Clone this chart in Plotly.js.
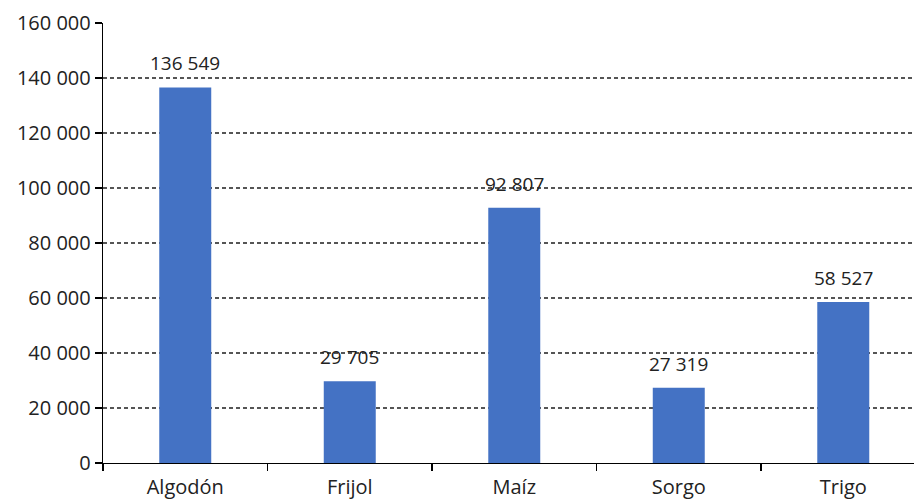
<!DOCTYPE html>
<html>
<head>
<meta charset="utf-8">
<script src="https://cdn.plot.ly/plotly-3.0.1.min.js"></script>
<style>html,body{margin:0;padding:0;background:#fff}#chart{width:914px;height:499px}</style>
</head>
<body>
<div id="chart"></div>
<script>
const categories = ["Algodón", "Frijol", "Maíz", "Sorgo", "Trigo"];
const values = [136549, 29705, 92807, 27319, 58527];
const yTicks = [0, 20000, 40000, 60000, 80000, 100000, 120000, 140000, 160000];

const fontFam = "Open Sans, Noto Sans, sans-serif";

function fmt(v) {
  return String(Math.round(v)).replace(/\B(?=(\d{3})+(?!\d))/g, " ");
}

const trace = {
  type: "bar",
  x: categories,
  y: values,
  marker: {color: "#4472C4", line: {width: 0}},
  hoverinfo: "none"
};

const annotations = categories.map((c, i) => ({
  x: c, y: values[i], xref: "x", yref: "y",
  text: fmt(values[i]),
  showarrow: false, yanchor: "bottom", yshift: 9,
  font: {family: fontFam, size: 19, color: "#222"}
}));

const layout = {
  width: 914, height: 499,
  margin: {l: 103, r: 0, t: 23, b: 36},
  separators: ", ",
  paper_bgcolor: "#fff", plot_bgcolor: "#fff",
  font: {family: fontFam, size: 19, color: "#222"},
  bargap: 0.684,
  showlegend: false,
  annotations: annotations,
  xaxis: {
    type: "category",
    range: [-0.5, 4.43],
    showline: true, linecolor: "#000", linewidth: 1.3,
    ticks: "outside", tickson: "boundaries", ticklen: 7, tickcolor: "#000", tickwidth: 1.3,
    ticklabelstandoff: 6,
    showgrid: false, zeroline: false,
    tickfont: {size: 20}
  },
  yaxis: {
    range: [0, 160000],
    tickvals: yTicks,
    tickformat: ",d",
    showline: true, linecolor: "#000", linewidth: 1.3,
    ticks: "outside", ticklen: 7, tickcolor: "#000", tickwidth: 1.3,
    showgrid: true, gridcolor: "#555", griddash: "4px,3px", gridwidth: 1.2,
    zeroline: false,
    tickfont: {size: 20}
  }
};

Plotly.newPlot("chart", [trace], layout, {displayModeBar: false, staticPlot: true});
</script>
</body>
</html>
